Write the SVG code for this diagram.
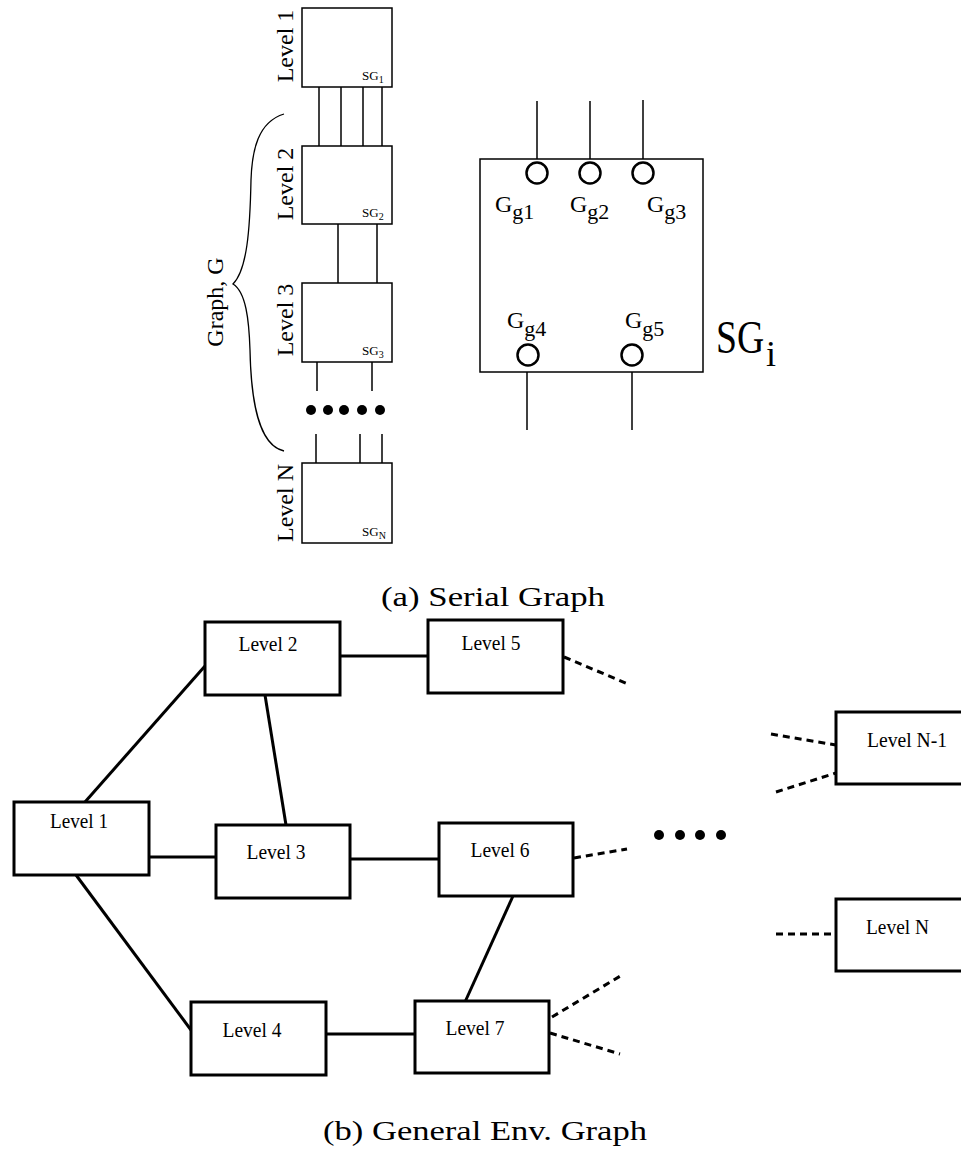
<svg xmlns="http://www.w3.org/2000/svg" width="961" height="1152" viewBox="0 0 961 1152">
<style>
  text { font-family: "Liberation Serif", "Times New Roman", serif; fill: #000; }
  .sbox { fill: #fff; stroke: #000; stroke-width: 1.5; }
  .sline { stroke: #000; stroke-width: 1.5; fill: none; }
  .port { fill: #fff; stroke: #000; stroke-width: 2.5; }
  .box { fill: #fff; stroke: #000; stroke-width: 3; }
  .edge { stroke: #000; stroke-width: 3; fill: none; }
  .dash { stroke: #000; stroke-width: 3; fill: none; stroke-dasharray: 7 5; }
  .side { font-size: 24px; }
  .sg { font-size: 13px; }
  .sgsub { font-size: 10px; }
  .gl { font-size: 24px; }
  .gsub { font-size: 22px; }
  .lbl { font-size: 21px; }
  .cap { font-size: 28px; }
</style>

<!-- (a) Serial graph -->
<g id="serial-connectors">
  <line class="sline" x1="319" y1="87" x2="319" y2="146"/>
  <line class="sline" x1="341" y1="87" x2="341" y2="146"/>
  <line class="sline" x1="363" y1="87" x2="363" y2="146"/>
  <line class="sline" x1="382" y1="87" x2="382" y2="146"/>
  <line class="sline" x1="338" y1="224" x2="338" y2="283"/>
  <line class="sline" x1="377" y1="224" x2="377" y2="283"/>
  <line class="sline" x1="317" y1="362" x2="317" y2="391"/>
  <line class="sline" x1="372" y1="362" x2="372" y2="391"/>
  <line class="sline" x1="316" y1="434" x2="316" y2="463"/>
  <line class="sline" x1="360" y1="434" x2="360" y2="463"/>
  <line class="sline" x1="382" y1="434" x2="382" y2="463"/>
</g>
<g id="serial-level1">
  <rect class="sbox" x="302" y="8" width="90" height="79"/>
  <text class="side" transform="translate(293,46) rotate(-90)" text-anchor="middle">Level 1</text>
  <text class="sg" x="362" y="80">SG<tspan class="sgsub" dy="3">1</tspan></text>
</g>
<g id="serial-level2">
  <rect class="sbox" x="302" y="146" width="90" height="78"/>
  <text class="side" transform="translate(293,184) rotate(-90)" text-anchor="middle">Level 2</text>
  <text class="sg" x="362" y="217">SG<tspan class="sgsub" dy="3">2</tspan></text>
</g>
<g id="serial-level3">
  <rect class="sbox" x="302" y="283" width="90" height="79"/>
  <text class="side" transform="translate(293,320) rotate(-90)" text-anchor="middle">Level 3</text>
  <text class="sg" x="362" y="355">SG<tspan class="sgsub" dy="3">3</tspan></text>
</g>
<g id="serial-dots">
  <circle cx="311" cy="410" r="5"/>
  <circle cx="328" cy="410" r="5"/>
  <circle cx="344" cy="410" r="5"/>
  <circle cx="362" cy="410" r="5"/>
  <circle cx="380" cy="410" r="5"/>
</g>
<g id="serial-levelN">
  <rect class="sbox" x="302" y="463" width="90" height="80"/>
  <text class="side" transform="translate(293,503) rotate(-90)" text-anchor="middle">Level N</text>
  <text class="sg" x="362" y="536">SG<tspan class="sgsub" dy="3">N</tspan></text>
</g>
<g id="brace">
  <path class="sline" style="stroke-width:1.3" d="M284,114 C258,122 252,150 251,180 C250,230 247,270 233,284 C246,292 249,320 250,350 C251,400 258,445 284,451"/>
  <text class="side" transform="translate(223,302) rotate(-90)" text-anchor="middle">Graph, G</text>
</g>

<!-- SG_i detail -->
<g id="sgi-connectors">
  <line class="sline" x1="537" y1="101" x2="537" y2="162"/>
  <line class="sline" x1="590" y1="101" x2="590" y2="162"/>
  <line class="sline" x1="643" y1="100" x2="643" y2="162"/>
  <line class="sline" x1="527" y1="366" x2="527" y2="430"/>
  <line class="sline" x1="632" y1="366" x2="632" y2="430"/>
</g>
<g id="sgi">
  <rect class="sbox" x="480" y="159" width="223" height="213"/>
  <circle class="port" cx="537" cy="173" r="10.5"/>
  <circle class="port" cx="590" cy="173" r="10.5"/>
  <circle class="port" cx="643" cy="173" r="10.5"/>
  <circle class="port" cx="528" cy="355" r="10.5"/>
  <circle class="port" cx="632" cy="355" r="10.5"/>
  <text class="gl" x="495" y="212">G<tspan class="gsub" dy="7">g1</tspan></text>
  <text class="gl" x="570" y="212">G<tspan class="gsub" dy="7">g2</tspan></text>
  <text class="gl" x="647" y="212">G<tspan class="gsub" dy="7">g3</tspan></text>
  <text class="gl" x="507" y="328">G<tspan class="gsub" dy="8">g4</tspan></text>
  <text class="gl" x="625" y="328">G<tspan class="gsub" dy="8">g5</tspan></text>
  <text transform="translate(716,353) scale(0.82,1)" style="font-size:46px">SG</text>
  <text x="766" y="366" style="font-size:36px">i</text>
</g>

<text id="caption-a" class="cap" x="381" y="606" textLength="224" lengthAdjust="spacingAndGlyphs">(a) Serial Graph</text>

<!-- (b) General env graph -->
<g id="connectors">
  <line class="edge" x1="340" y1="656" x2="428" y2="656"/>
  <line class="edge" x1="85" y1="802" x2="205" y2="666"/>
  <line class="edge" x1="265" y1="695" x2="286" y2="825"/>
  <line class="edge" x1="149" y1="857" x2="216" y2="857"/>
  <line class="edge" x1="350" y1="859" x2="439" y2="859"/>
  <line class="edge" x1="76" y1="875" x2="191" y2="1030"/>
  <line class="edge" x1="513" y1="896" x2="465" y2="1002"/>
  <line class="edge" x1="326" y1="1034" x2="415" y2="1034"/>
  <line class="dash" x1="564" y1="657" x2="628" y2="684"/>
  <line class="dash" x1="574" y1="858" x2="627" y2="849"/>
  <line class="dash" x1="552" y1="1017" x2="622" y2="975"/>
  <line class="dash" x1="550" y1="1033" x2="620" y2="1054"/>
  <line class="dash" x1="771" y1="734" x2="836" y2="745"/>
  <line class="dash" x1="776" y1="792" x2="836" y2="773"/>
  <line class="dash" x1="776" y1="934" x2="836" y2="934"/>
</g>
<g id="gdots">
  <circle cx="659" cy="835" r="5"/>
  <circle cx="680" cy="835" r="5"/>
  <circle cx="700" cy="835" r="5"/>
  <circle cx="721" cy="835" r="5"/>
</g>
<g id="level1">
  <rect class="box" x="14" y="802" width="135" height="73"/>
  <text class="lbl" x="79" y="828" text-anchor="middle" textLength="58" lengthAdjust="spacingAndGlyphs">Level 1</text>
</g>
<g id="level2">
  <rect class="box" x="205" y="622" width="135" height="73"/>
  <text class="lbl" x="268" y="651" text-anchor="middle" textLength="59" lengthAdjust="spacingAndGlyphs">Level 2</text>
</g>
<g id="level3">
  <rect class="box" x="216" y="825" width="134" height="73"/>
  <text class="lbl" x="276" y="859" text-anchor="middle" textLength="59" lengthAdjust="spacingAndGlyphs">Level 3</text>
</g>
<g id="level4">
  <rect class="box" x="191" y="1002" width="135" height="73"/>
  <text class="lbl" x="252" y="1037" text-anchor="middle" textLength="59" lengthAdjust="spacingAndGlyphs">Level 4</text>
</g>
<g id="level5">
  <rect class="box" x="428" y="620" width="135" height="73"/>
  <text class="lbl" x="491" y="650" text-anchor="middle" textLength="59" lengthAdjust="spacingAndGlyphs">Level 5</text>
</g>
<g id="level6">
  <rect class="box" x="439" y="823" width="134" height="73"/>
  <text class="lbl" x="500" y="857" text-anchor="middle" textLength="59" lengthAdjust="spacingAndGlyphs">Level 6</text>
</g>
<g id="level7">
  <rect class="box" x="415" y="1001" width="134" height="72"/>
  <text class="lbl" x="475" y="1035" text-anchor="middle" textLength="59" lengthAdjust="spacingAndGlyphs">Level 7</text>
</g>
<g id="levelN-1">
  <rect class="box" x="836" y="712" width="134" height="72"/>
  <text class="lbl" x="907" y="747" text-anchor="middle" textLength="80" lengthAdjust="spacingAndGlyphs">Level N-1</text>
</g>
<g id="levelN">
  <rect class="box" x="836" y="899" width="134" height="72"/>
  <text class="lbl" x="866" y="934" textLength="63" lengthAdjust="spacingAndGlyphs">Level N</text>
</g>

<text id="caption-b" class="cap" x="323" y="1140" textLength="324" lengthAdjust="spacingAndGlyphs">(b) General Env. Graph</text>
</svg>
